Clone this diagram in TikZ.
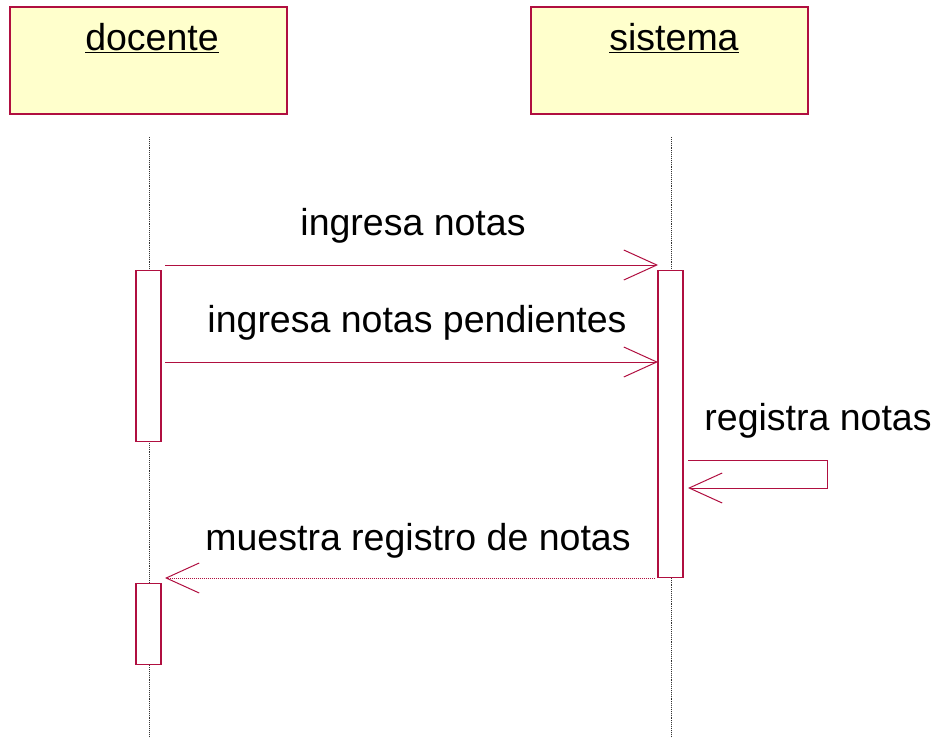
\documentclass[tikz,border=0pt]{standalone}
\usepackage{fontspec}
\setmainfont{Liberation Sans}
\usetikzlibrary{arrows.meta, positioning}
\definecolor{umlred}{rgb}{0.69, 0.06, 0.25}
\definecolor{umlyellow}{rgb}{1.0, 1.0, 0.8}

\tikzset{
    actor/.style={draw=umlred, fill=umlyellow, line width=1.3pt, minimum width=277pt, minimum height=107pt, inner sep=0pt},
    activation/.style={draw=umlred, fill=white, line width=1.2pt, minimum width=25pt, inner sep=0pt, anchor=north},
    lifeline/.style={densely dotted, black!80, line width=0.9pt},
    msg/.style={umlred, line width=1pt, -{Straight Barb[length=33pt, width=30pt, line width=1pt]}},
    label/.style={font=\fontsize{37.5}{45}\selectfont, anchor=base, inner sep=0pt}
}

\begin{document}
\begin{tikzpicture}[x=1pt, y=-1pt]
    \useasboundingbox (0,0) rectangle (941,736);

    % participants
    \node[actor] (docentebox) at (148.5,60.5) {};
    \node[actor] (sistemabox) at (669.5,60.5) {};
    \node[label] (docente) at (152,50) {\underline{docente}};
    \node[label] (sistema) at (674,50) {\underline{sistema}};

    % lifelines
    \coordinate (dtop) at (149,137);
    \coordinate (dbot) at (149,736);
    \coordinate (stop) at (671,137);
    \coordinate (sbot) at (671,736);
    \draw[lifeline] (dtop) -- (dbot);
    \draw[lifeline] (stop) -- (sbot);

    % activations
    \node[activation, minimum height=171pt] (dact1) at (148.5,270) {};
    \node[activation, minimum height=81pt] (dact2) at (148.5,583) {};
    \node[activation, minimum height=307pt] (sact) at (670.5,270) {};

    % messages
    \coordinate (m1a) at (165,265);
    \coordinate (m1b) at (658,265);
    \draw[msg] (m1a) -- (m1b);
    \node[label] (ingresa) at (413,235) {ingresa notas};

    \coordinate (m2a) at (165,362);
    \coordinate (m2b) at (658,362);
    \draw[msg] (m2a) -- (m2b);
    \node[label] (pendientes) at (417,332) {ingresa notas pendientes};

    \coordinate (s1) at (688,460);
    \coordinate (s2) at (827,460);
    \coordinate (s3) at (827,488);
    \coordinate (s4) at (688,488);
    \draw[msg] (s1) -- (s2) -- (s3) -- (s4);
    \node[label] (registra) at (818,430) {registra notas};

    \coordinate (r1) at (655,578);
    \coordinate (r2) at (165,578);
    \draw[msg, densely dotted] (r1) -- (r2);
    \node[label] (muestra) at (418,550) {muestra registro de notas};

\end{tikzpicture}
\end{document}
